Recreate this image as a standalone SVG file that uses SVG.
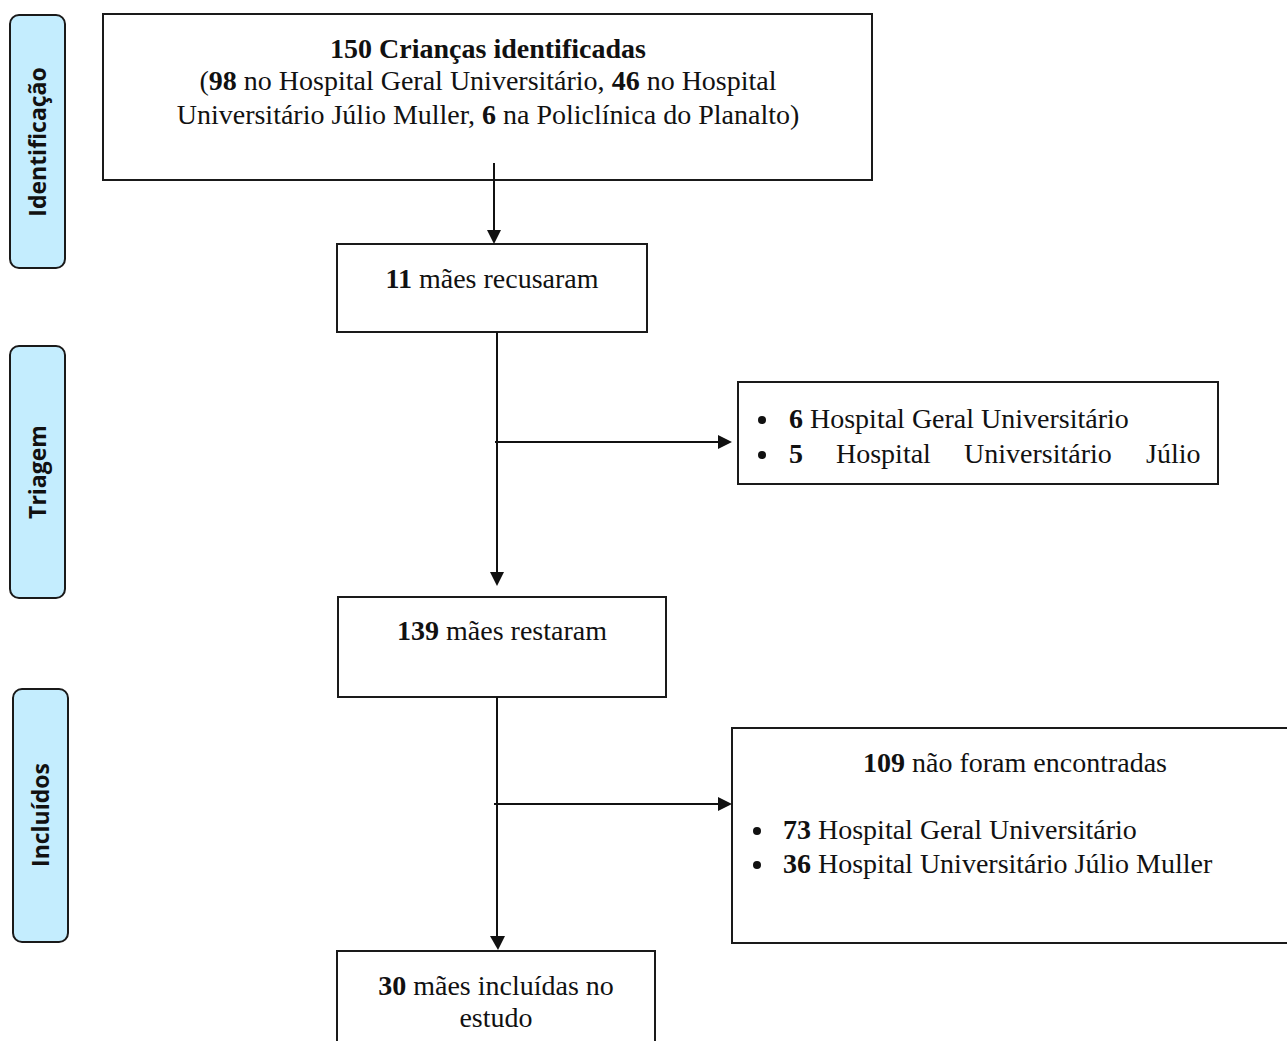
<svg xmlns="http://www.w3.org/2000/svg" width="1287" height="1041" viewBox="0 0 1287 1041">
<style>
.tab{fill:#C4EDFE;stroke:#1a1a1a;stroke-width:2}
.tabt{font-family:"Open Sans","DejaVu Sans",sans-serif;font-weight:bold;font-size:23px;fill:#111;text-anchor:middle}
.box{fill:#fff;stroke:#1a1a1a;stroke-width:2}
.t{font-family:"Liberation Serif","Times New Roman",serif;font-size:28px;fill:#111}
.c{text-anchor:middle}
.b{font-weight:bold}
.ln{stroke:#111;stroke-width:2;fill:none}
</style>
<rect width="1287" height="1041" fill="#fff"/>
<g id="tab-identificacao"><rect class="tab" x="10" y="15" width="55" height="253" rx="9"/><text class="tabt" transform="translate(46,142) rotate(-90)">Identificação</text></g>
<g id="tab-triagem"><rect class="tab" x="10" y="346" width="55" height="252" rx="9"/><text class="tabt" transform="translate(46,472) rotate(-90)">Triagem</text></g>
<g id="tab-incluidos"><rect class="tab" x="13" y="689" width="55" height="253" rx="9"/><text class="tabt" transform="translate(49,815) rotate(-90)">Incluídos</text></g>

<g id="n-identificadas"><rect class="box" x="103" y="14" width="769" height="166"/>
<text class="t c b" x="488" y="58">150 Crianças identificadas</text>
<text class="t c" x="488" y="90">(<tspan class="b">98</tspan> no Hospital Geral Universitário, <tspan class="b">46</tspan> no Hospital</text>
<text class="t c" x="488" y="124">Universitário Júlio Muller, <tspan class="b">6</tspan> na Policlínica do Planalto)</text></g>

<g id="n-recusaram"><rect class="box" x="337" y="244" width="310" height="88"/>
<text class="t c" x="492" y="288"><tspan class="b">11</tspan> mães recusaram</text></g>

<g id="n-recusa-detalhe"><rect class="box" x="738" y="382" width="480" height="102"/>
<circle cx="762" cy="420" r="4" fill="#111"/><circle cx="762" cy="455" r="4" fill="#111"/>
<text class="t" x="789" y="428"><tspan class="b">6</tspan> Hospital Geral Universitário</text>
<text class="t" x="789" y="463"><tspan class="b">5</tspan><tspan x="836">Hospital</tspan><tspan x="964">Universitário</tspan><tspan x="1146">Júlio</tspan></text></g>

<g id="n-restaram"><rect class="box" x="338" y="597" width="328" height="100"/>
<text class="t c" x="502" y="640"><tspan class="b">139</tspan> mães restaram</text></g>

<g id="n-nao-encontradas"><rect class="box" x="732" y="728" width="570" height="215"/>
<text class="t c" x="1015" y="772"><tspan class="b">109</tspan> não foram encontradas</text>
<circle cx="757" cy="831" r="4" fill="#111"/><circle cx="757" cy="865" r="4" fill="#111"/>
<text class="t" x="783" y="839"><tspan class="b">73</tspan> Hospital Geral Universitário</text>
<text class="t" x="783" y="873"><tspan class="b">36</tspan> Hospital Universitário Júlio Muller</text></g>

<g id="n-incluidas"><rect class="box" x="337" y="951" width="318" height="110"/>
<text class="t c" x="496" y="995"><tspan class="b">30</tspan> mães incluídas no</text>
<text class="t c" x="496" y="1027">estudo</text></g>

<g id="connectors">
<line class="ln" x1="494" y1="163" x2="494" y2="232"/><polygon points="487,230 501,230 494,244" fill="#111"/>
<line class="ln" x1="497" y1="332" x2="497" y2="574"/><polygon points="490,572 504,572 497,586" fill="#111"/>
<line class="ln" x1="495" y1="442" x2="720" y2="442"/><polygon points="718,435 718,449 732,442" fill="#111"/>
<line class="ln" x1="497" y1="697" x2="497" y2="938"/><polygon points="490,936 505,936 498,950" fill="#111"/>
<line class="ln" x1="494" y1="804" x2="720" y2="804"/><polygon points="718,797 718,811 732,804" fill="#111"/>
</g>
</svg>
